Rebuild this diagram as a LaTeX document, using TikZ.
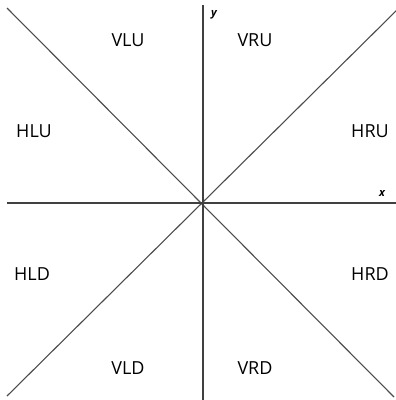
\documentclass[tikz,border=0pt]{standalone}
\usepackage{fontspec}
\setmainfont{Open Sans}
\begin{document}
\begin{tikzpicture}[x=1pt,y=-1pt,
  axis/.style={draw=black!75, line width=1.7pt},
  diag/.style={draw=black!70, line width=1.1pt},
  region/.style={font=\fontsize{18}{20}\selectfont},
  axlabel/.style={font=\bfseries\itshape\fontsize{11}{12}\selectfont}]
\useasboundingbox (0,0) rectangle (396,400);
\coordinate (O) at (203,203);
\coordinate (xl) at (7,203);
\coordinate (xr) at (396,203);
\coordinate (yt) at (203,5);
\coordinate (yb) at (203,400);
\coordinate (tl) at (7,8);
\coordinate (tr) at (399,8);
\coordinate (bl) at (7,396);
\coordinate (br) at (394,397);
\draw[diag] (tl) -- (br);
\draw[diag] (bl) -- (tr);
\draw[axis] (xl) -- (xr);
\draw[axis] (yt) -- (yb);
\node[axlabel] (xlab) at (382,193) {x};
\node[axlabel] (ylab) at (214,15) {y};
\node[region] (VLU) at (128,40) {VLU};
\node[region] (VRU) at (255,40) {VRU};
\node[region] (HLU) at (34,131) {HLU};
\node[region] (HRU) at (370,131) {HRU};
\node[region] (HLD) at (32,274) {HLD};
\node[region] (HRD) at (370,274) {HRD};
\node[region] (VLD) at (128,368) {VLD};
\node[region] (VRD) at (255,368) {VRD};
\end{tikzpicture}
\end{document}
